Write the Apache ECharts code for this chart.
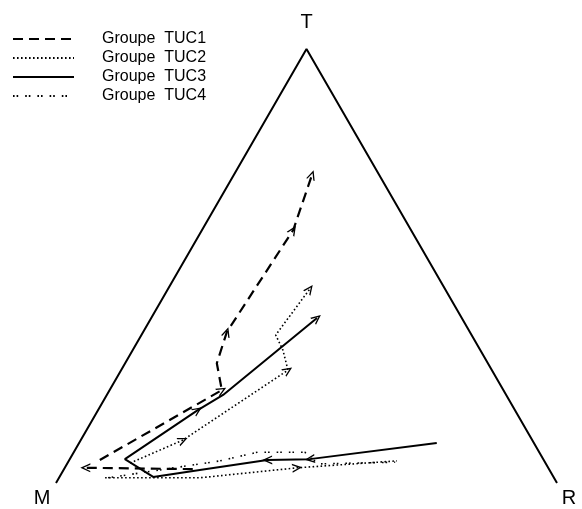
<!DOCTYPE html>
<html>
<head>
<meta charset="utf-8">
<script src="https://cdn.jsdelivr.net/npm/echarts@6/dist/echarts.min.js"></script>
<style>
  html, body { margin: 0; padding: 0; background: #fff; }
  #chart { width: 582px; height: 509px; }
</style>
</head>
<body>
<div id="chart"></div>
<script>
// every point is [T, M, R] in percent, null starts a new path of the same group
const groupNames = ['Groupe  TUC1', 'Groupe  TUC2', 'Groupe  TUC3', 'Groupe  TUC4']
const vertexNames = ['T', 'M', 'R']

const tuc1 = [
  [5.3, 88.6, 6.1],
  [21.4, 56.2, 22.4],
  [27.6, 54.1, 18.3],
  [34.8, 48.5, 16.7],
  [58.3, 23.5, 18.2],
  [71.0, 13.4, 15.6],
  null,
  [3.2, 71.1, 25.7],
  [3.5, 92.4, 4.1]
]
const tuc2 = [
  [4.6, 82.9, 12.5],
  [9.9, 69.7, 20.4],
  [26.0, 40.7, 33.3],
  [30.6, 39.4, 30.0],
  [34.1, 39.1, 26.8],
  [44.7, 27.0, 28.3],
  null,
  [1.2, 89.6, 9.2],
  [1.2, 70.7, 28.1],
  [3.5, 50.1, 46.4],
  [5.1, 29.4, 65.5]
]
const tuc3 = [
  [9.2, 19.4, 71.4],
  [5.5, 46.6, 47.9],
  [5.3, 55.2, 39.5],
  [3.0, 69.8, 27.2],
  [1.4, 79.9, 18.7],
  [5.5, 83.5, 11.0],
  [16.8, 63.3, 19.9],
  [20.3, 56.5, 23.2],
  [38.0, 28.9, 33.1]
]
const tuc4 = [
  [1.2, 89.0, 9.8],
  [5.1, 64.7, 30.2],
  [7.1, 56.2, 36.7],
  [7.1, 46.8, 46.1],
  [4.4, 45.5, 50.1],
  [4.8, 29.9, 65.3]
]
// index of points that carry an arrow head (end of the segment leading to it)
const tuc1Arrows = [1, 3, 4, 5, 8]
const tuc2Arrows = [1, 2, 5, 9]
const tuc3Arrows = [1, 2, 6, 8]
const tuc4Arrows = []

const groups = [tuc1, tuc2, tuc3, tuc4]
const arrows = [tuc1Arrows, tuc2Arrows, tuc3Arrows, tuc4Arrows]
const dashes = [[10, 6], [1.6, 2.4], 'solid', [1.6, 2, 1.6, 7]]
const widths = [2.2, 1.6, 2, 1.6]

// ternary -> cartesian, M at (0,0), R at (1,0), T on top
function toXY(p) {
  if (!p) return ['-', '-']
  const t = p[0] / 100
  const r = p[2] / 100
  return [r + t / 2, t * Math.sqrt(3) / 2]
}

const chevron = 'path://M0,10 L5,0 L10,10 L8.4,10 L5,3.2 L1.6,10 Z'

const series = groups.map(function(g, i) {
  const data = g.map(toXY)
  return {
    name: groupNames[i],
    type: 'line',
    symbol: 'none',
    data: data,
    connectNulls: false,
    lineStyle: { color: '#000', width: widths[i], type: dashes[i] },
    itemStyle: { color: '#000' },
    animation: false,
    markLine: {
      silent: true,
      animation: false,
      symbol: ['none', chevron],
      symbolSize: [9, 10],
      label: { show: false },
      lineStyle: { color: '#000', width: 0, type: 'solid' },
      data: arrows[i].map(function(k) {
        return [{ coord: data[k - 1] }, { coord: data[k] }]
      })
    }
  }
})

// triangle frame with vertex names
const corners = [[100, 0, 0], [0, 100, 0], [0, 0, 100]]
const labelPos = [
  { position: 'top', offset: [0, -11] },
  { position: 'bottom', offset: [-14, 0] },
  { position: 'bottom', offset: [12, 0] }
]
series.push({
  type: 'line',
  symbol: 'none',
  animation: false,
  silent: true,
  lineStyle: { color: '#000', width: 2 },
  data: [1, 0, 2].map(function(k) {
    return {
      value: toXY(corners[k]),
      symbol: 'circle',
      symbolSize: 0.1,
      label: Object.assign({
        show: true,
        formatter: vertexNames[k],
        color: '#000',
        fontSize: 20,
        fontFamily: 'Liberation Sans'
      }, labelPos[k])
    }
  })
})

const chart = echarts.init(document.getElementById('chart'))
chart.setOption({
  backgroundColor: '#fff',
  animation: false,
  grid: { left: 56, right: 25, top: 32, bottom: 26 },
  xAxis: { type: 'value', min: 0, max: 1, show: false },
  yAxis: { type: 'value', min: 0, max: 0.9, show: false },
  legend: {
    orient: 'vertical',
    left: 7,
    top: 26,
    itemWidth: 61,
    itemHeight: 10,
    itemGap: 3,
    data: groupNames,
    itemStyle: { color: 'rgba(0,0,0,0)', borderWidth: 0, opacity: 0 },
    textStyle: {
      color: '#000',
      fontSize: 16,
      lineHeight: 16,
      fontFamily: 'Liberation Sans',
      padding: [0, 0, 0, 23]
    }
  },
  series: series
})
</script>
</body>
</html>
